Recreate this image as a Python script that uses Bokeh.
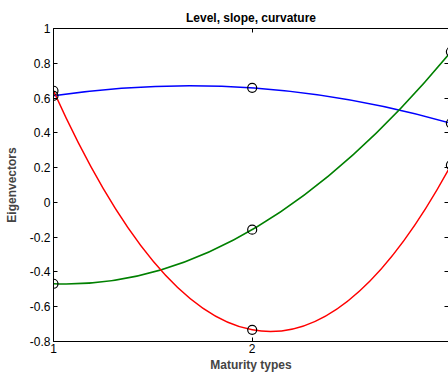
from bokeh.plotting import figure
from bokeh.models import Range1d, FixedTicker, LinearAxis, CustomLabelingPolicy
from bokeh.embed import file_html
from bokeh.resources import INLINE

# First three principal-component loadings across maturity types
maturity = [1, 2, 3]
level = [0.613, 0.659, 0.455]
slope = [-0.468, -0.157, 0.866]
curvature = [0.642, -0.733, 0.214]

x_ticks = [1, 2, 3]
x_tick_labels = ["1", "2", "3"]
y_ticks = [-0.8, -0.6, -0.4, -0.2, 0, 0.2, 0.4, 0.6, 0.8, 1]
y_tick_labels = ["-0.8", "-0.6", "-0.4", "-0.2", "0", "0.2", "0.4", "0.6", "0.8", "1"]

FONT = "Liberation Sans"

p = figure(
    width=448, height=375,
    x_range=Range1d(1, 2.988), y_range=Range1d(-0.8, 1),
    output_backend="svg", toolbar_location=None,
    title="Level, slope, curvature",
    min_border_left=53, min_border_right=0,
    min_border_top=28, min_border_bottom=34,
)
p.outline_line_color = None
p.background_fill_color = "white"
p.border_fill_color = "white"
p.xgrid.visible = False
p.ygrid.visible = False

p.title.align = "center"
p.title.text_font = FONT
p.title.text_font_size = "12px"
p.title.text_font_style = "bold"
p.title.text_color = "black"
p.title.standoff = 7

# drops every tick label on the unlabeled box edges
no_labels = CustomLabelingPolicy(code="""
    for (const i of indices)
        indices.unset(i)
""")


def style_axis(ax, show_labels=True):
    ax.axis_line_color = "black"
    ax.axis_line_width = 1
    ax.major_tick_in = 4
    ax.major_tick_out = 0
    ax.major_tick_line_color = "black"
    ax.minor_tick_line_color = None
    ax.major_label_text_font = FONT
    ax.major_label_text_color = "black"
    if show_labels:
        ax.major_label_text_font_size = "12px"
        ax.major_label_standoff = 2
    else:
        ax.major_label_text_font_size = "0px"
        ax.major_label_standoff = 0
        ax.major_label_policy = no_labels


xa = p.xaxis[0]
xa.ticker = FixedTicker(ticks=x_ticks)
xa.major_label_overrides = dict(zip(x_ticks, x_tick_labels))
style_axis(xa)
xa.axis_label = "Maturity types"
xa.axis_label_text_font = FONT
xa.axis_label_text_font_size = "12px"
xa.axis_label_text_font_style = "bold"
xa.axis_label_standoff = 2

ya = p.yaxis[0]
ya.ticker = FixedTicker(ticks=y_ticks)
ya.major_label_overrides = dict(zip(y_ticks, y_tick_labels))
style_axis(ya)
ya.major_label_standoff = 3
ya.axis_label = "Eigenvectors"
ya.axis_label_text_font = FONT
ya.axis_label_text_font_size = "12px"
ya.axis_label_text_font_style = "bold"
ya.axis_label_standoff = 8

# box edges with inward ticks on the top and right
top = LinearAxis(ticker=FixedTicker(ticks=x_ticks))
style_axis(top, show_labels=False)
p.add_layout(top, "above")

right = LinearAxis(ticker=FixedTicker(ticks=y_ticks))
style_axis(right, show_labels=False)
right.axis_line_color = None
p.add_layout(right, "right")

# each loading curve is the parabola through its three points,
# drawn as a quadratic Bezier whose midpoint passes through the middle value
series = [(level, "#0000ff"), (slope, "#008000"), (curvature, "#ff0000")]
for vals, color in series:
    cy = 2 * vals[1] - 0.5 * (vals[0] + vals[2])
    p.quadratic(
        x0=[maturity[0]], y0=[vals[0]],
        x1=[maturity[2]], y1=[vals[2]],
        cx=[maturity[1]], cy=[cy],
        line_color=color, line_width=1.5,
    )

for vals, color in series:
    p.scatter(maturity, vals, marker="circle", size=9,
              fill_color=None, line_color="black", line_width=1.2)

open("out.html", "w").write(file_html(p, INLINE))
